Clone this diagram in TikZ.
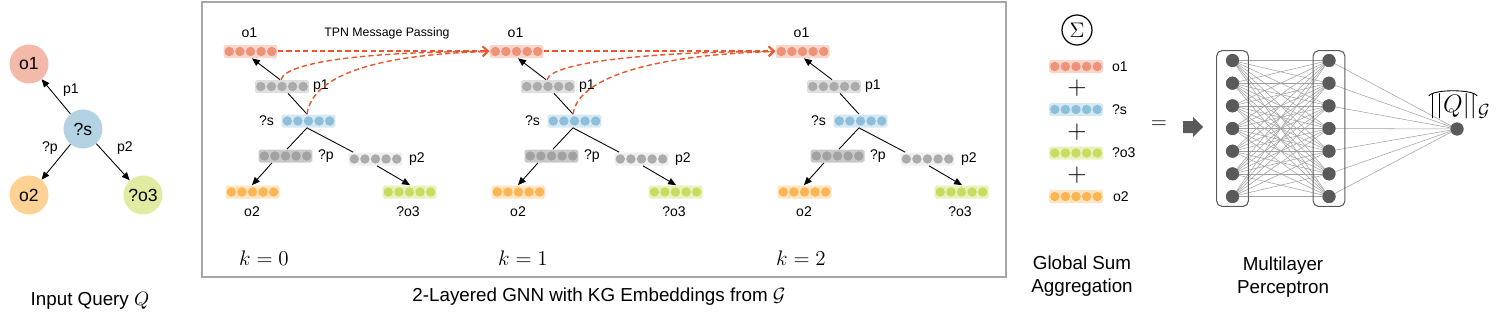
\documentclass[tikz,border=0pt]{standalone}
\usepackage{fontspec}
\setmainfont{Liberation Sans}
\usetikzlibrary{calc,arrows.meta,fit}
\definecolor{o1f}{HTML}{F9D5CA}
\definecolor{o1d}{HTML}{EE937A}
\definecolor{gf}{HTML}{DEDEDE}
\definecolor{gd}{HTML}{ABABAB}
\definecolor{qpf}{HTML}{C9C9C9}
\definecolor{qpd}{HTML}{A2A2A2}
\definecolor{p2f}{HTML}{EFEFEF}
\definecolor{sf}{HTML}{D5E8F3}
\definecolor{sd}{HTML}{8DBFDA}
\definecolor{o2f}{HTML}{FFE4C0}
\definecolor{o2d}{HTML}{FDB452}
\definecolor{o3f}{HTML}{E9F1BE}
\definecolor{o3d}{HTML}{C9DC5F}
\definecolor{co1}{HTML}{F3B9A9}
\definecolor{cs}{HTML}{B3D3E4}
\definecolor{co2}{HTML}{FDD294}
\definecolor{co3}{HTML}{E1EBA2}
\definecolor{msgred}{HTML}{E9562E}
\definecolor{framegray}{HTML}{A6A6A6}
\definecolor{neurgray}{HTML}{5A5A5A}
\definecolor{syngray}{HTML}{A0A0A0}
\tikzset{
  vbox/.style={rectangle, rounded corners=1pt, minimum width=1.08cm, minimum height=0.26cm, inner sep=0pt, draw=none},
  lbl/.style={font=\fontsize{8}{9.6}\selectfont, inner sep=1pt},
  qc/.style={circle, minimum size=0.78cm, inner sep=0pt, font=\fontsize{10}{12}\selectfont},
  tipa/.style={-{Triangle[length=4.5pt,width=3.8pt]}, line width=0.5pt},
  ln/.style={line width=0.5pt},
  msg/.style={dash pattern=on 3pt off 1.8pt, color=msgred, line width=0.8pt, -{Straight Barb[length=3pt,width=5.5pt]}},
  klbl/.style={font=\fontsize{13}{14}\selectfont},
  captxt/.style={font=\fontsize{10.7}{13}\selectfont, align=center, inner sep=0pt},
  plussign/.style={font=\fontsize{14}{14}\selectfont, inner sep=0pt},
  neuron/.style={circle, fill=neurgray, minimum size=0.26cm, inner sep=0pt},
  syn/.style={draw=syngray, line width=0.3pt},
  mlpbox/.style={draw=neurgray, line width=0.6pt, rounded corners=3pt, inner xsep=0.18cm, inner ysep=0.06cm},
}
\newcommand\embvec[4]{%
  \node[vbox, fill=#3] (#1) at (#2) {};
  \foreach \d in {-2,...,2}{\fill[#4] ($(#1.center)+(\d*10.6,0)$) circle[radius=0.094cm];}%
}
\newcommand\gnnpanel[2]{%
  \begin{scope}[xshift=#2*0.02cm]
  \embvec{o1#1}{250.5,51.5}{o1f}{o1d}
  \node[lbl] (lo1#1) at (249.5,33) {o1};
  \embvec{p1#1}{282,86.5}{gf}{gd}
  \node[lbl, anchor=west] (lp1#1) at (311,86.5) {p1};
  \embvec{s#1}{308.5,121}{sf}{sd}
  \node[lbl, anchor=east] (ls#1) at (276,121) {?s};
  \embvec{qp#1}{285.5,156}{qpf}{qpd}
  \node[lbl, anchor=west] (lqp#1) at (316,156.5) {?p};
  \embvec{p2#1}{375.5,159}{p2f}{gd}
  \node[lbl, anchor=west] (lp2#1) at (407,159) {p2};
  \embvec{o2#1}{252.5,192}{o2f}{o2d}
  \node[lbl] (lo2#1) at (252,212) {o2};
  \embvec{o3#1}{409.5,192}{o3f}{o3d}
  \node[lbl] (lo3#1) at (408,212) {?o3};
  \draw[tipa] ($(p1#1.north)+(-2,0)$) -- ($(o1#1.south)+(1.5,0)$);
  \draw[ln] ($(s#1.north)+(-1.5,0)$) -- ($(p1#1.south)+(6,0)$);
  \draw[ln] ($(s#1.south)+(-1.5,0)$) -- ($(qp#1.north)+(1.5,0)$);
  \draw[tipa] ($(qp#1.south)+(-13.5,0)$) -- ($(o2#1.north)+(-0.5,0)$);
  \draw[ln] ($(s#1.south)+(-1.5,0)$) -- ($(p2#1.north west)+(5,0)$);
  \draw[tipa] ($(p2#1.south)+(1.5,0)$) -- ($(o3#1.north)+(0.5,0)$);
  \end{scope}
}
\newcommand\msgpass[2]{%
  \draw[msg, line width=0.9pt] ($(o1#1.east)+(0,-0.5)$) -- ($(o1#2.west)+(0,-0.5)$);
  \draw[msg] ($(p1#1.north)+(-1,0)$) .. controls ($(p1#1.north)+(4,-18)$) and ($(o1#2.west)+(-120,0)$) .. (o1#2.west);
  \draw[msg] ($(s#1.north)+(-1.5,0)$) .. controls ($(s#1.north)+(4,-40)$) and ($(o1#2.west)+(-110,3)$) .. (o1#2.west);
}
\begin{document}
\begin{tikzpicture}[x=0.02cm, y=-0.02cm]
\useasboundingbox (0,0) rectangle (1502,325);
% input query
\node[qc, fill=co1] (q1) at (29,64) {o1};
\node[qc, fill=cs] (qs) at (83,129) {?s};
\node[qc, fill=co2] (q2) at (29,195) {o2};
\node[qc, fill=co3] (q3) at (143,195) {?o3};
\draw[tipa] (qs) -- (q1);
\draw[tipa] (qs) -- (q2);
\draw[tipa] (qs) -- (q3);
\node[lbl] (lq1) at (71,90) {p1};
\node[lbl] (lq2) at (50,148) {?p};
\node[lbl] (lq3) at (125,148) {p2};
\node[captxt] (cq) at (90,301) {Input Query $Q$};
% GNN
\draw[framegray, line width=0.7pt] (202,2) rectangle (1006,277);
\gnnpanel{a}{0}
\gnnpanel{b}{266}
\gnnpanel{c}{552}
\msgpass{a}{b}
\msgpass{b}{c}
\node[font=\fontsize{7}{8}\selectfont] (tpn) at (387,33) {TPN Message Passing};
\node[klbl] (k0) at (264,258) {$k=0$};
\node[klbl] (k1) at (523,258) {$k=1$};
\node[klbl] (k2) at (801,258) {$k=2$};
\node[captxt] (cg) at (599,297) {2-Layered GNN with KG Embeddings from $\mathcal{G}$};
% global sum
\node[draw, circle, line width=0.7pt, minimum size=0.6cm, inner sep=0pt, font=\fontsize{12}{12}\selectfont] (sig) at (1077,30) {$\Sigma$};
\embvec{go1}{1076,66.5}{o1f}{o1d}
\embvec{gs}{1076,109.5}{sf}{sd}
\embvec{go3}{1076,153}{o3f}{o3d}
\embvec{go2}{1076,196.5}{o2f}{o2d}
\node[lbl, anchor=west] (lgo1) at (1110,66.5) {o1};
\node[lbl, anchor=west] (lgs) at (1110,109.5) {?s};
\node[lbl, anchor=west] (lgo3) at (1110,153) {?o3};
\node[lbl, anchor=west] (lgo2) at (1111,196.5) {o2};
\node[plussign] (pl1) at (1077,88) {$+$};
\node[plussign] (pl2) at (1077,132) {$+$};
\node[plussign] (pl3) at (1077,175) {$+$};
\node[captxt] (cgs) at (1082,276.5) {Global Sum\\Aggregation};
\node[font=\fontsize{12}{12}\selectfont] (eq) at (1159,125) {$=$};
\fill[neurgray] (1183,121) -- (1193,121) -- (1193,117) -- (1203,127) -- (1193,137) -- (1193,133) -- (1183,133) -- cycle;
% MLP
\foreach \i in {0,...,6}{
  \node[neuron] (L\i) at (1232.5,{60.5+\i*22.67}) {};
  \node[neuron] (R\i) at (1329,{60.5+\i*22.67}) {};
}
\node[neuron] (out) at (1457,129) {};
\foreach \i in {0,...,6}{
  \foreach \j in {0,...,6}{\draw[syn] (L\i.center) -- (R\j.center);}
  \draw[syn] (R\i.center) -- (out.center);
}
\foreach \i in {0,...,6}{
  \node[neuron] at (L\i) {};
  \node[neuron] at (R\i) {};
}
\node[neuron] at (out) {};
\node[mlpbox, fit=(L0)(L6)] (lbox) {};
\node[mlpbox, fit=(R0)(R6)] (rbox) {};
\node[font=\fontsize{14}{15}\selectfont, inner sep=0pt] (qn) at (1453,106) {$||Q||$};
\node[font=\fontsize{14}{15}\selectfont, inner sep=0pt, anchor=base west] (qg) at ($(qn.base east)+(0.5,4)$) {$\scriptstyle\mathcal{G}$};
\draw[line width=0.5pt] ($(qn.north west)+(0,3)$) .. controls ($(qn.north west)+(4,-4)$) and ($(qn.north east)+(-4,-4)$) .. ($(qn.north east)+(0,3)$);
\node[captxt] (cm) at (1283,277.5) {Multilayer\\Perceptron};
\end{tikzpicture}
\end{document}
